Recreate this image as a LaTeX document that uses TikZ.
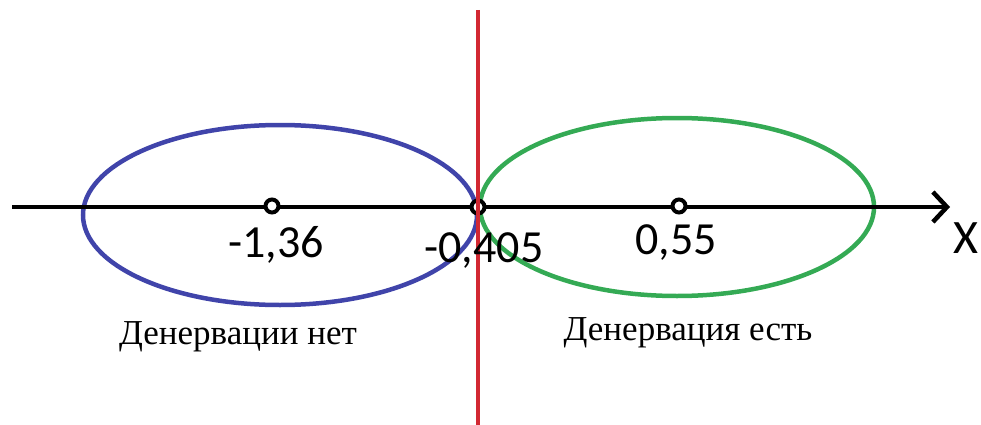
\documentclass[tikz,border=0pt]{standalone}
\usepackage{fontspec}
\setmainfont{Liberation Serif}
\newfontfamily\numfont{Carlito}
\usetikzlibrary{arrows.meta}
\begin{document}
\begin{tikzpicture}[x=1pt,y=-1pt,
  pt/.style={circle,draw=black,line width=4pt,minimum size=13pt,inner sep=0pt,fill=white},
  num/.style={font=\numfont\fontsize{46}{46}\selectfont,inner sep=0pt},
  rus/.style={font=\fontsize{35}{35}\selectfont,inner sep=0pt}]
\useasboundingbox (0,0) rectangle (981,425);
\draw[line width=4.5pt,color={rgb,255:red,64;green,68;blue,170}] (280,215) ellipse [x radius=197,y radius=90];
\draw[line width=4.5pt,color={rgb,255:red,52;green,170;blue,84}] (677,207) ellipse [x radius=197,y radius=89];
\coordinate (xs) at (12,207);
\coordinate (xe) at (950,207);
\draw[line width=4.5pt,-{Straight Barb[length=14pt,width=30pt,line width=4.5pt]}] (xs) -- (xe);
\node[pt] (p1) at (272,206) {};
\node[pt] (p2) at (478,207) {};
\node[pt] (p3) at (679,206) {};
\coordinate (rt) at (478,10);
\coordinate (rb) at (478,425);
\draw[line width=3.5pt,color={rgb,255:red,210;green,40;blue,50}] (rt) -- (rb);
\node[num] (l1) at (276,245) {-1,36};
\node[num] (l2) at (484,251) {-0,405};
\node[num] (l3) at (676,243) {0,55};
\node[num,font=\numfont\fontsize{48}{48}\selectfont] (lx) at (966,238) {X};
\node[rus] (d1) at (238,337) {Денервации нет};
\node[rus] (d2) at (688,333) {Денервация есть};
\end{tikzpicture}
\end{document}
